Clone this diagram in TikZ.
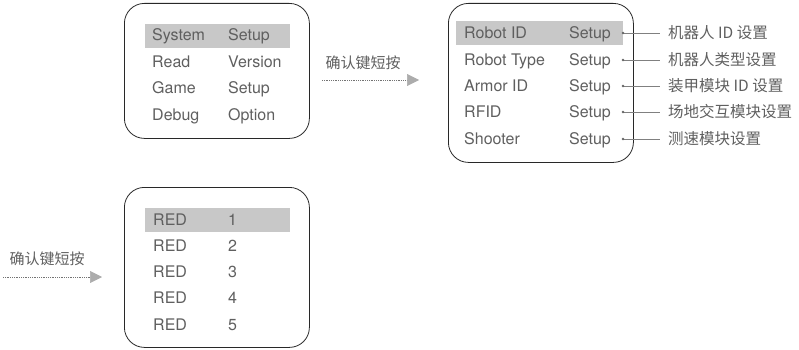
\documentclass[tikz,border=0pt]{standalone}
\usepackage{fontspec}
\setmainfont{TeX Gyre Heros}
\newfontfamily\cjk{Noto Sans CJK SC}
\usetikzlibrary{arrows.meta,positioning}
\definecolor{txtgray}{RGB}{95,95,95}
\definecolor{selgray}{RGB}{200,200,200}
\definecolor{tipgray}{RGB}{172,172,172}
\definecolor{rimgray}{RGB}{40,40,40}
\tikzset{
  menubox/.style={draw=rimgray, line width=0.8pt, rounded corners=20pt,
    minimum width=185pt, inner sep=0pt, anchor=north west},
  selbar/.style={fill=selgray, minimum height=23.5pt, inner sep=0pt, anchor=north west},
  itemtxt/.style={text=txtgray, font=\fontsize{16}{16}\selectfont, anchor=west,
    inner sep=0pt, text height=11.5pt, text depth=0pt},
  notetxt/.style={itemtxt, font=\cjk\fontsize{15.5}{16}\selectfont, text height=10.5pt},
  keytxt/.style={text=txtgray, font=\cjk\fontsize{15}{16}\selectfont, inner sep=0pt},
  presskey/.style={dash pattern=on 0.7pt off 1.1pt, line width=0.6pt, black!55,
    -{Triangle[length=12pt,width=12pt,color=tipgray]}},
  leader/.style={line width=0.7pt, black!50},
}
\newcommand{\leaderdot}[1]{%
  \fill[black!60] #1 circle (1.3pt);
}

\begin{document}
\begin{tikzpicture}[x=1pt, y=-1pt]
  \useasboundingbox (0,0) rectangle (799,350);

  % main menu
  \node[menubox, minimum height=135pt] (mainbox) at (124,3) {};
  \node[selbar, minimum width=145pt] (mainsel) at (145,24) {};
  \foreach \y/\a/\b [count=\i] in {35/System/Setup, 62/Read/Version,
      88/Game/Setup, 115/Debug/Option} {
    \node[itemtxt] (main\i a) at (152,\y) {\a};
    \node[itemtxt] (main\i b) at (228,\y) {\b};
  }

  % short press into the setup menu
  \node[keytxt] (press1) at (363,63) {确认键短按};
  \coordinate (press1s) at (322,80);
  \coordinate (press1e) at (419,80);
  \draw[presskey] (press1s) -- (press1e);

  % setup menu with its notes
  \node[menubox, minimum height=159pt] (setbox) at (448,3) {};
  \node[selbar, minimum width=167pt] (setsel) at (456,21) {};
  \foreach \y/\a/\note [count=\i] in {33/Robot ID/机器人 ID 设置,
      60/Robot Type/机器人类型设置, 86/Armor ID/装甲模块 ID 设置,
      112/RFID/场地交互模块设置, 139/Shooter/测速模块设置} {
    \node[itemtxt] (set\i a) at (464,\y) {\a};
    \node[itemtxt] (set\i b) at (569,\y) {Setup};
    \coordinate (set\i dot) at (623,\y);
    \node[notetxt] (set\i note) at (668,\y) {\note};
    \draw[leader] (set\i dot) -- ([xshift=-8pt]set\i note.west);
    \leaderdot{(set\i dot)}
  }

  % short press into the colour menu
  \node[keytxt] (press2) at (47,259) {确认键短按};
  \coordinate (press2s) at (3,277);
  \coordinate (press2e) at (102,277);
  \draw[presskey] (press2s) -- (press2e);

  % colour menu
  \node[menubox, minimum height=160pt] (redbox) at (124,187) {};
  \node[selbar, minimum width=145pt] (redsel) at (145,208) {};
  \foreach \y [count=\i] in {220,246,272,298,325} {
    \node[itemtxt] (red\i a) at (153,\y) {RED};
    \node[itemtxt] (red\i b) at (228,\y) {\i};
  }
\end{tikzpicture}
\end{document}
